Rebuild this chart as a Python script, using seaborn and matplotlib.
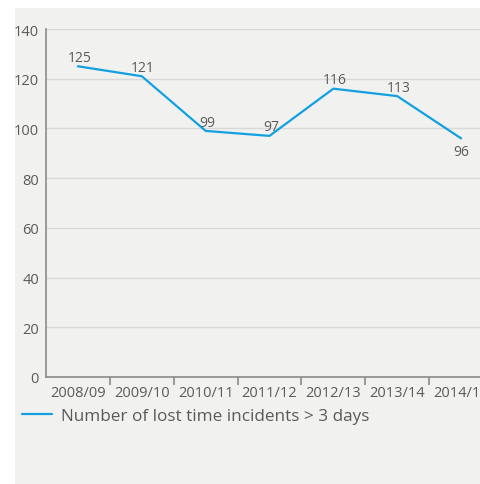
import matplotlib
matplotlib.use("Agg")
import matplotlib.pyplot as plt
import seaborn as sns
import pandas as pd
from matplotlib.patches import Rectangle

years = ["2008/09", "2009/10", "2010/11", "2011/12", "2012/13", "2013/14", "2014/15"]
incidents = [125, 121, 99, 97, 116, 113, 96]
series_name = "Number of lost time incidents > 3 days"
y_ticks = [0, 20, 40, 60, 80, 100, 120, 140]

df = pd.DataFrame({"year": years, "value": incidents, "series": series_name})

sns.set_theme(style="white")
plt.rcParams["font.family"] = ["Open Sans", "DejaVu Sans"]

panel = "#f1f1f0"
text_col = "#5a5a5a"
line_col = "#12a0e0"
W, H = 481, 485

fig = plt.figure(figsize=(W / 100, H / 100), dpi=100)
fig.patch.set_facecolor("white")
fig.patches.append(Rectangle((15 / W, 0), 1 - 15 / W, (H - 9) / H,
                             transform=fig.transFigure, facecolor=panel,
                             edgecolor="none", zorder=-10))

ax = fig.add_axes([46 / W, (H - 378) / H, (493 - 46) / W, (378 - 30) / H])
ax.set_facecolor(panel)

sns.lineplot(data=df, x="year", y="value", hue="series", palette=[line_col],
             linewidth=1.6, sort=False, ax=ax)

ax.set_xlim(-0.5, 6.5)
ax.set_ylim(0, 140)
ax.set_yticks(y_ticks)
ax.set_xticks(range(len(years)))
ax.set_xticklabels(years)
ax.set_xticks([i + 0.5 for i in range(len(years))], minor=True)
ax.tick_params(axis="x", which="major", bottom=True, length=0, pad=6,
               labelsize=10.5, colors=text_col)
ax.tick_params(axis="x", which="minor", bottom=True, length=6, width=1.2,
               color="#8a8a8a", direction="out")
ax.tick_params(axis="y", length=0, pad=5, labelsize=10.5, colors=text_col)
ax.set_xlabel("")
ax.set_ylabel("")

ax.grid(axis="y", color="#d8d8d8", linewidth=1)
ax.set_axisbelow(True)
for s in ["top", "right"]:
    ax.spines[s].set_visible(False)
ax.spines["left"].set_color("#8a8a8a")
ax.spines["left"].set_linewidth(1.2)
ax.spines["bottom"].set_color("#8a8a8a")
ax.spines["bottom"].set_linewidth(1.2)

for i, v in enumerate(incidents):
    if i == len(incidents) - 1:
        ax.annotate(str(v), (i, v), xytext=(0, -4), textcoords="offset points",
                    ha="center", va="top", fontsize=10, color=text_col)
    else:
        ax.annotate(str(v), (i, v), xytext=(1, 1), textcoords="offset points",
                    ha="center", va="bottom", fontsize=10, color=text_col)

ax.get_legend().remove()
handles, labels = ax.get_legend_handles_labels()
fig.legend(handles, labels, loc="center left", bbox_to_anchor=(7 / W, (H - 417) / H),
           frameon=False, fontsize=12.3, handlelength=1.75, handletextpad=0.5,
           labelcolor=text_col)

fig.savefig("out.png", dpi=100, facecolor=fig.get_facecolor())
